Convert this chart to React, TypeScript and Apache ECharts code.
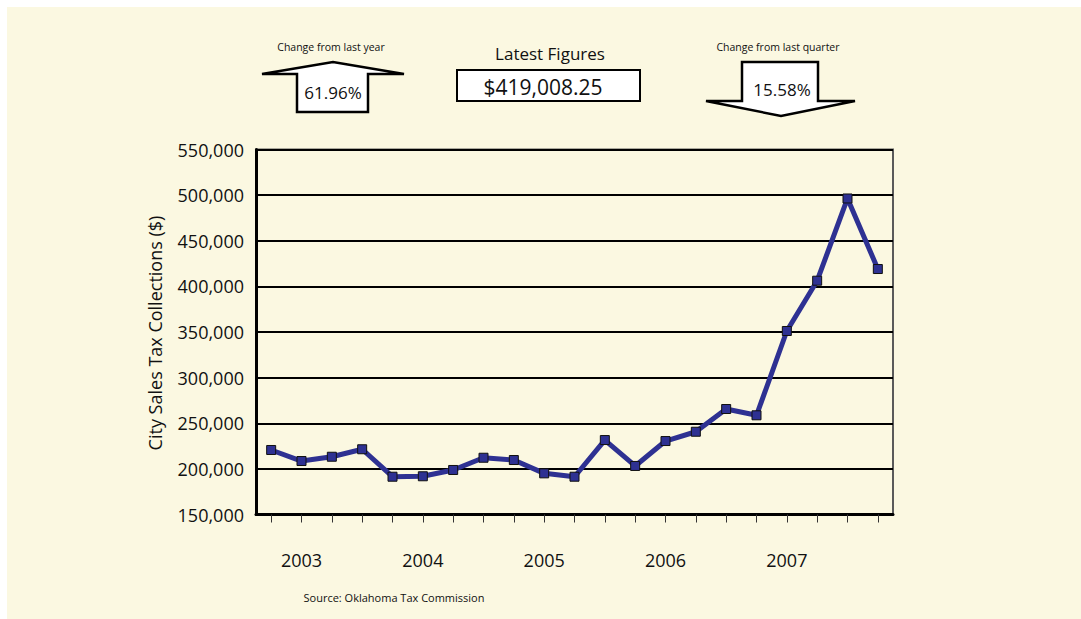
import React, { useEffect, useRef } from "react";
import * as echarts from "echarts";

const quarters = [
  "2003 Q1", "2003 Q2", "2003 Q3", "2003 Q4",
  "2004 Q1", "2004 Q2", "2004 Q3", "2004 Q4",
  "2005 Q1", "2005 Q2", "2005 Q3", "2005 Q4",
  "2006 Q1", "2006 Q2", "2006 Q3", "2006 Q4",
  "2007 Q1", "2007 Q2", "2007 Q3", "2007 Q4",
  "2008 Q1",
];
const collections = [
  220700, 208600, 213300, 221500,
  191400, 191900, 198800, 212200,
  209700, 195100, 191400, 231600,
  203200, 230500, 240700, 265600,
  258710, 351100, 406200, 496330,
  419008,
];
const yMin = 150000;
const yMax = 550000;
const yStep = 50000;
const latestFigure = "$419,008.25";
const changeYear = "61.96%";
const changeQuarter = "15.58%";

const FONT = "Open Sans";

export default function App() {
  const ref = useRef<HTMLDivElement>(null);
  useEffect(() => {
    if (!ref.current) return;
    const chart = echarts.init(ref.current, null, { renderer: "svg" });
    chart.setOption({
      animation: false,
      backgroundColor: "#ffffff",
      grid: {
        left: 256,
        top: 149.5,
        right: 188,
        bottom: 104.5,
        show: true,
        backgroundColor: "transparent",
        borderColor: "#5a5a5a",
        borderWidth: 2,
      },
      xAxis: {
        type: "category",
        data: quarters,
        boundaryGap: true,
        axisLine: { show: true, lineStyle: { color: "#000", width: 3 } },
        axisTick: {
          show: true,
          alignWithLabel: true,
          interval: 0,
          length: 8,
          lineStyle: { color: "#333", width: 1 },
        },
        axisLabel: {
          interval: (i: number) => i % 4 === 1,
          formatter: (v: string) => v.slice(0, 4),
          margin: 36,
          fontFamily: FONT,
          fontSize: 18,
          color: "#111",
        },
        splitLine: { show: false },
      },
      yAxis: {
        type: "value",
        min: yMin,
        max: yMax,
        interval: yStep,
        axisLine: { show: true, lineStyle: { color: "#000", width: 3 } },
        axisTick: { show: false },
        axisLabel: {
          margin: 12,
          fontFamily: FONT,
          fontSize: 18,
          color: "#111",
          formatter: (v: number) => v.toLocaleString("en-US"),
        },
        splitLine: { show: true, lineStyle: { color: "#000", width: 2 } },
      },
      series: [
        {
          type: "line",
          data: collections,
          symbol: "rect",
          symbolSize: 9,
          lineStyle: { color: "#2e3192", width: 5 },
          itemStyle: { color: "#2e3192", borderColor: "#111", borderWidth: 1 },
          z: 5,
        },
      ],
      graphic: [
        {
          type: "rect",
          z: -100,
          silent: true,
          shape: { x: 7, y: 7, width: 1074, height: 612 },
          style: { fill: "#fbf8e1" },
        },
        {
          type: "text",
          x: 155,
          y: 333,
          rotation: Math.PI / 2,
          style: {
            text: "City Sales Tax Collections ($)",
            fontFamily: FONT,
            fontSize: 18,
            fill: "#111",
            align: "center",
            verticalAlign: "middle",
          },
        },
        {
          type: "text",
          x: 331,
          y: 47,
          style: {
            text: "Change from last year",
            fontFamily: FONT,
            fontSize: 10.5,
            fill: "#111",
            align: "center",
            verticalAlign: "middle",
          },
        },
        {
          type: "polygon",
          shape: {
            points: [
              [262, 74], [297, 74], [297, 112], [368, 112], [368, 74], [404, 74], [333, 62],
            ],
          },
          style: { fill: "#fff", stroke: "#000", lineWidth: 2.5, lineJoin: "miter" },
        },
        {
          type: "text",
          x: 333,
          y: 92,
          style: {
            text: changeYear,
            fontFamily: FONT,
            fontSize: 17,
            fill: "#111",
            align: "center",
            verticalAlign: "middle",
          },
        },
        {
          type: "text",
          x: 550,
          y: 53,
          style: {
            text: "Latest Figures",
            fontFamily: FONT,
            fontSize: 17,
            fill: "#111",
            align: "center",
            verticalAlign: "middle",
          },
        },
        {
          type: "rect",
          shape: { x: 457, y: 70, width: 183, height: 31 },
          style: { fill: "#fff", stroke: "#000", lineWidth: 2 },
        },
        {
          type: "text",
          x: 543,
          y: 87,
          style: {
            text: latestFigure,
            fontFamily: FONT,
            fontSize: 21,
            fill: "#111",
            align: "center",
            verticalAlign: "middle",
          },
        },
        {
          type: "text",
          x: 778,
          y: 47,
          style: {
            text: "Change from last quarter",
            fontFamily: FONT,
            fontSize: 10.5,
            fill: "#111",
            align: "center",
            verticalAlign: "middle",
          },
        },
        {
          type: "polygon",
          shape: {
            points: [
              [742, 62], [818, 62], [818, 101], [855, 101], [781, 116], [706, 101], [742, 101],
            ],
          },
          style: { fill: "#fff", stroke: "#000", lineWidth: 2.5, lineJoin: "miter" },
        },
        {
          type: "text",
          x: 782,
          y: 89,
          style: {
            text: changeQuarter,
            fontFamily: FONT,
            fontSize: 17,
            fill: "#111",
            align: "center",
            verticalAlign: "middle",
          },
        },
        {
          type: "text",
          x: 394,
          y: 597,
          style: {
            text: "Source: Oklahoma Tax Commission",
            fontFamily: FONT,
            fontSize: 11,
            fill: "#111",
            align: "center",
            verticalAlign: "middle",
          },
        },
      ],
    });
    return () => chart.dispose();
  }, []);
  return (
    <div
      ref={ref}
      style={{ position: "absolute", left: 0, top: 0, width: 1081, height: 619 }}
    />
  );
}
